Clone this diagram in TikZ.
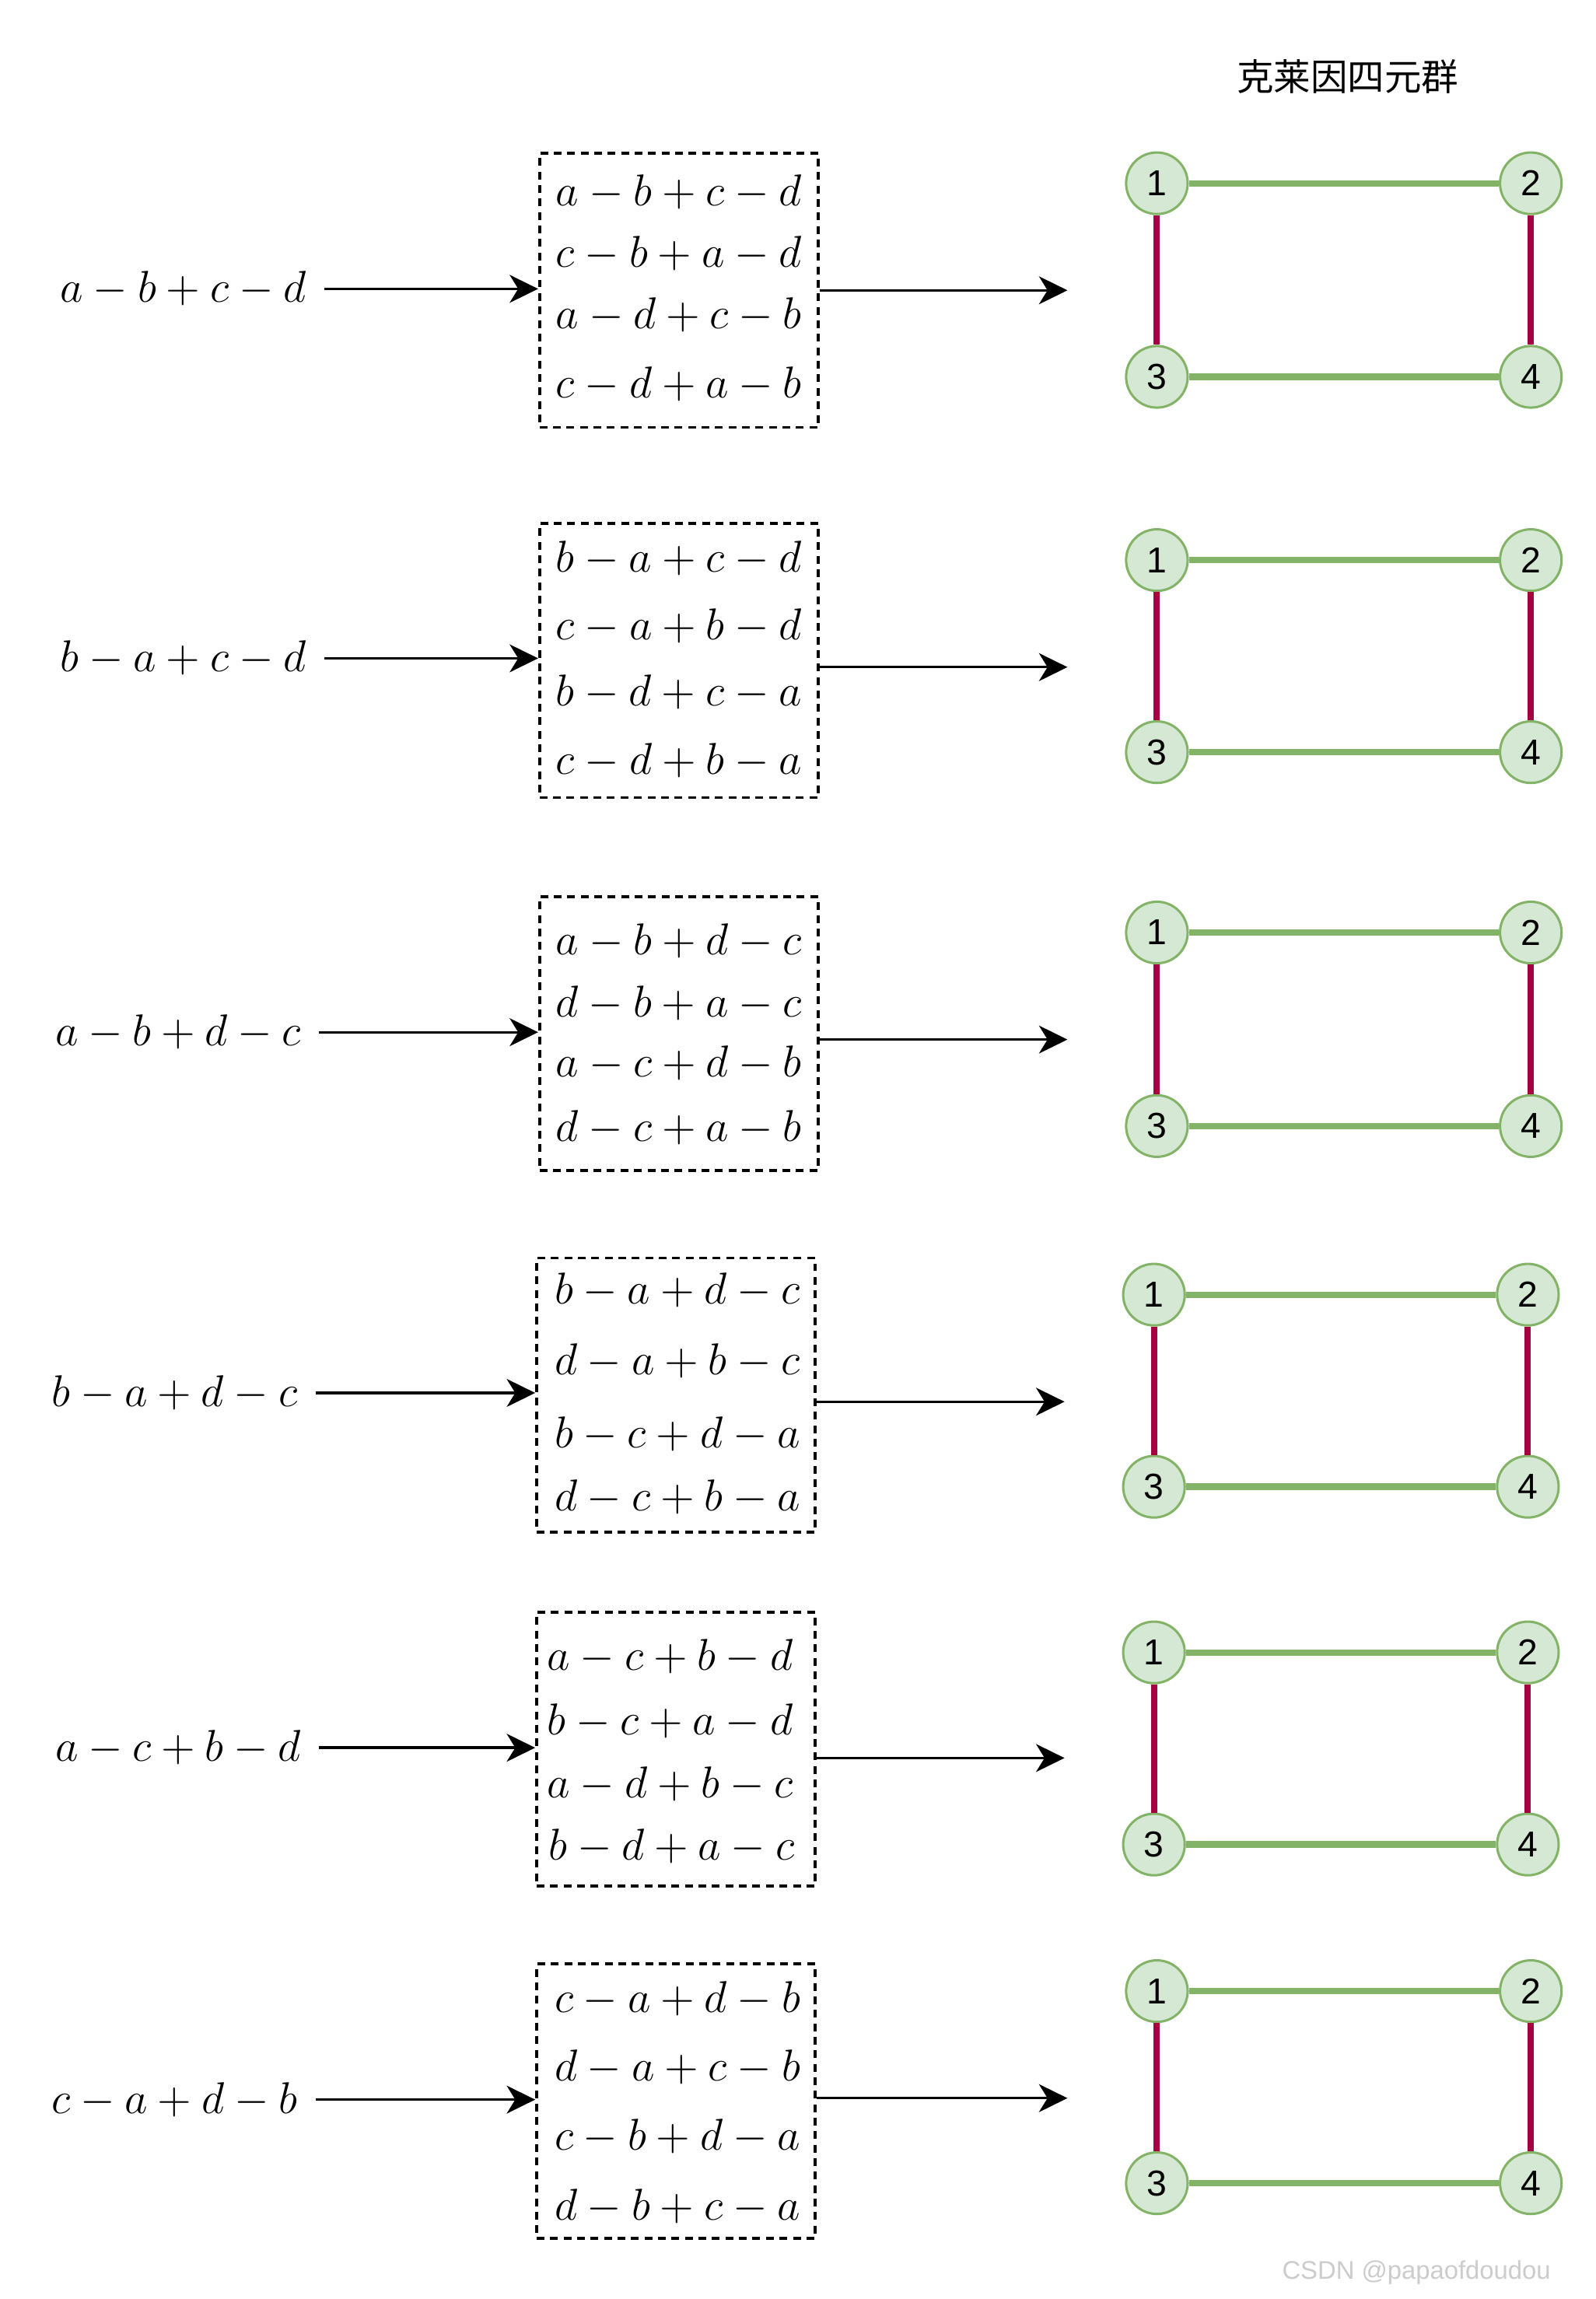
\RequirePackage{fix-cm}
\documentclass[tikz,border=0pt]{standalone}
\usepackage{fontspec}
\newfontfamily\cjk{Noto Sans CJK SC}
\newfontfamily\arialf{Liberation Sans}
\usetikzlibrary{arrows.meta}
\definecolor{gstroke}{HTML}{82B366}
\definecolor{gfill}{HTML}{D5E8D4}
\definecolor{redcol}{HTML}{A50040}
\tikzset{
  expr/.style={inner sep=0pt, font=\fontsize{15.2}{18}\selectfont},
  dbox/.style={draw, dash pattern=on 2.65pt off 1.95pt, line width=1pt, minimum width=95pt, minimum height=93.5pt, inner sep=0pt},
  arr/.style={line width=0.9pt, -{Stealth[length=9.7pt,width=9.5pt,inset=2.9pt]}},
  vert/.style={circle, draw=gstroke, fill=gfill, line width=0.8pt, minimum size=21pt, inner sep=0pt, font=\arialf\fontsize{12.3}{14}\selectfont},
  gedge/.style={draw=gstroke, line width=2.2pt},
  redge/.style={draw=redcol, line width=2.1pt},
}
\begin{document}
\begin{tikzpicture}[x=0.5pt,y=-0.5pt]
\useasboundingbox (0,0) rectangle (1088,1568);
\fill[white] (0,0) rectangle (1088,1568);

\node[font=\cjk\fontsize{12.6}{15}\selectfont] (title) at (919,52) {克莱因四元群};

% ---------- Row 1
\node[expr] (L1) at (125,197) {$a-b+c-d$};
\node[dbox] (B1) at (463,198) {};
\node[expr] (B1a) at (463,131) {$a-b+c-d$};
\node[expr] (B1b) at (463,173) {$c-b+a-d$};
\node[expr] (B1c) at (463,215) {$a-d+c-b$};
\node[expr] (B1d) at (463,262) {$c-d+a-b$};
\draw[arr] ([xshift=6pt]L1.east) -- (L1.east -| B1.west);
\coordinate (G1) at (728,198);
\draw[arr] (B1.east |- G1) -- (G1);
\node[vert] (N1a) at (789,125) {1};
\node[vert] (N1b) at (1044,125) {2};
\node[vert] (N1c) at (789,257) {3};
\node[vert] (N1d) at (1044,257) {4};
\draw[gedge] (N1a) -- (N1b);
\draw[gedge] (N1c) -- (N1d);
\draw[redge] (N1a) -- (N1c);
\draw[redge] (N1b) -- (N1d);

% ---------- Row 2
\node[expr] (L2) at (125,449) {$b-a+c-d$};
\node[dbox] (B2) at (463,450.5) {};
\node[expr] (B2a) at (463,381) {$b-a+c-d$};
\node[expr] (B2b) at (463,427) {$c-a+b-d$};
\node[expr] (B2c) at (463,472) {$b-d+c-a$};
\node[expr] (B2d) at (463,519) {$c-d+b-a$};
\draw[arr] ([xshift=6pt]L2.east) -- (L2.east -| B2.west);
\coordinate (G2) at (728,455);
\draw[arr] (B2.east |- G2) -- (G2);
\node[vert] (N2a) at (789,382) {1};
\node[vert] (N2b) at (1044,382) {2};
\node[vert] (N2c) at (789,513) {3};
\node[vert] (N2d) at (1044,513) {4};
\draw[gedge] (N2a) -- (N2b);
\draw[gedge] (N2c) -- (N2d);
\draw[redge] (N2a) -- (N2c);
\draw[redge] (N2b) -- (N2d);

% ---------- Row 3
\node[expr] (L3) at (121.5,704) {$a-b+d-c$};
\node[dbox] (B3) at (463,705) {};
\node[expr] (B3a) at (463,642) {$a-b+d-c$};
\node[expr] (B3b) at (463,684) {$d-b+a-c$};
\node[expr] (B3c) at (463,725) {$a-c+d-b$};
\node[expr] (B3d) at (463,769) {$d-c+a-b$};
\draw[arr] ([xshift=6pt]L3.east) -- (L3.east -| B3.west);
\coordinate (G3) at (728,709);
\draw[arr] (B3.east |- G3) -- (G3);
\node[vert] (N3a) at (789,636) {1};
\node[vert] (N3b) at (1044,636) {2};
\node[vert] (N3c) at (789,768) {3};
\node[vert] (N3d) at (1044,768) {4};
\draw[gedge] (N3a) -- (N3b);
\draw[gedge] (N3c) -- (N3d);
\draw[redge] (N3a) -- (N3c);
\draw[redge] (N3b) -- (N3d);

% ---------- Row 4
\node[expr] (L4) at (119,950) {$b-a+d-c$};
\node[dbox] (B4) at (461,951.5) {};
\node[expr] (B4a) at (462,880) {$b-a+d-c$};
\node[expr] (B4b) at (462,928) {$d-a+b-c$};
\node[expr] (B4c) at (462,978) {$b-c+d-a$};
\node[expr] (B4d) at (462,1021) {$d-c+b-a$};
\draw[arr] ([xshift=6pt]L4.east) -- (L4.east -| B4.west);
\coordinate (G4) at (726,956);
\draw[arr] (B4.east |- G4) -- (G4);
\node[vert] (N4a) at (787,883) {1};
\node[vert] (N4b) at (1042,883) {2};
\node[vert] (N4c) at (787,1014) {3};
\node[vert] (N4d) at (1042,1014) {4};
\draw[gedge] (N4a) -- (N4b);
\draw[gedge] (N4c) -- (N4d);
\draw[redge] (N4a) -- (N4c);
\draw[redge] (N4b) -- (N4d);

% ---------- Row 5
\node[expr] (L5) at (121.5,1192) {$a-c+b-d$};
\node[dbox] (B5) at (461,1193) {};
\node[expr] (B5a) at (457,1130) {$a-c+b-d$};
\node[expr] (B5b) at (457,1174) {$b-c+a-d$};
\node[expr] (B5c) at (457,1217) {$a-d+b-c$};
\node[expr] (B5d) at (458,1259) {$b-d+a-c$};
\draw[arr] ([xshift=6pt]L5.east) -- (L5.east -| B5.west);
\coordinate (G5) at (726,1199);
\draw[arr] (B5.east |- G5) -- (G5);
\node[vert] (N5a) at (787,1127) {1};
\node[vert] (N5b) at (1042,1127) {2};
\node[vert] (N5c) at (787,1258) {3};
\node[vert] (N5d) at (1042,1258) {4};
\draw[gedge] (N5a) -- (N5b);
\draw[gedge] (N5c) -- (N5d);
\draw[redge] (N5a) -- (N5c);
\draw[redge] (N5b) -- (N5d);

% ---------- Row 6
\node[expr] (L6) at (119,1432) {$c-a+d-b$};
\node[dbox] (B6) at (461,1433) {};
\node[expr] (B6a) at (462,1363) {$c-a+d-b$};
\node[expr] (B6b) at (462,1410) {$d-a+c-b$};
\node[expr] (B6c) at (462,1457) {$c-b+d-a$};
\node[expr] (B6d) at (462,1505) {$d-b+c-a$};
\draw[arr] ([xshift=6pt]L6.east) -- (L6.east -| B6.west);
\coordinate (G6) at (728,1431);
\draw[arr] (B6.east |- G6) -- (G6);
\node[vert] (N6a) at (789,1358) {1};
\node[vert] (N6b) at (1044,1358) {2};
\node[vert] (N6c) at (789,1489) {3};
\node[vert] (N6d) at (1044,1489) {4};
\draw[gedge] (N6a) -- (N6b);
\draw[gedge] (N6c) -- (N6d);
\draw[redge] (N6a) -- (N6c);
\draw[redge] (N6b) -- (N6d);

\node[font=\arialf\fontsize{8.7}{10}\selectfont, text=black!20] (wm) at (966,1550) {CSDN @papaofdoudou};
\end{tikzpicture}
\end{document}
